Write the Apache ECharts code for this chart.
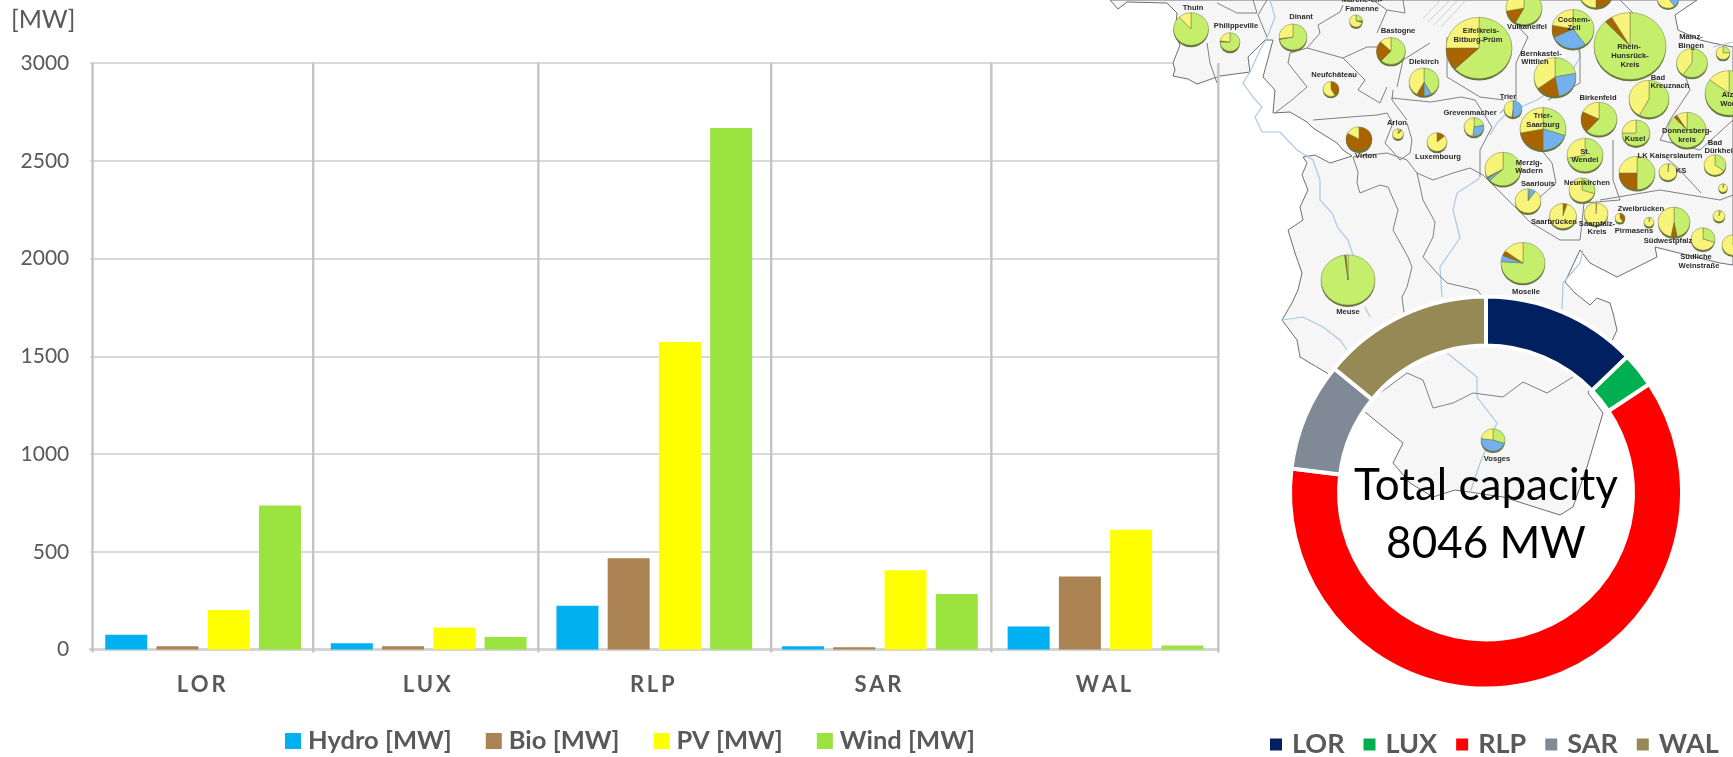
<!DOCTYPE html>
<html><head><meta charset="utf-8">
<style>html,body{margin:0;padding:0;background:#fff}#c{width:1733px;height:757px}</style>
<script src="https://cdn.jsdelivr.net/npm/echarts@6/dist/echarts.min.js"></script>
</head><body><div id="c"></div>
<script>
const regions = ['LOR','LUX','RLP','SAR','WAL'];
const yTicks = [0,500,1000,1500,2000,2500,3000];
const hydro = [76,32,224,17,118];
const bio   = [17,17,467,12,373];
const pv    = [202,113,1573,405,612];
const wind  = [736,64,2667,284,20];
const regionCapacity = [1031,230,4931,720,1134];
const totalCapacity = 8046;
const dividers = [0.01,0.988,1.986,3.018,3.994,5];

// map: [x, y, radius, wind, hydro, bio, pv], on the map axes
const mapPies = [
[1191,29,17.5,88,0,0,12],[1230,42,10,75,0,2,23],[1293,37,14,72,0,1,27],[1356,21,6.5,25,0,5,70],
[1391,51,14.5,62,0,25,13],[1331,89,8,0,0,42,58],[1359,139,13,0,0,83,17],[1398,134,5.5,8,0,4,88],
[1424,82,15,42,8,8,42],[1437,142,10,0,0,14,86],[1474,127,10,22,30,0,48],[1513,109,9,0,50,2,48],
[1479,48,33,63,0,12,25],[1524,8,18,58,0,14,28],[1573,29,21,40,28,10,22],[1596,-8,17,20,0,30,50],
[1668,-2,11,10,30,0,60],[1630,46,36,88,0,3.5,8.5],[1692,63,15.5,60,0,0,40],[1723,53,7,25,0,0,75],
[1729,93,24,85,0,0,15],[1555,77,21,22,25,18,35],[1649,99,20,58,0,0,42],[1599,119,18,62,0,20,18],
[1543,129,23,30,20,22,28],[1636,133,14,75,0,0,25],[1687,130,19,88,0,3,9],[1585,155,18,72,0,0,28],
[1503,169,18,63,3,1,33],[1637,173,18,50,0,25,25],[1668,172,9,2,0,0,98],[1715,165,11,35,0,0,65],
[1723,188,4.5,5,0,0,95],[1528,201,13,2,8,0,90],[1582,190,13,30,0,0,70],[1563,216,13.5,0,0,5,95],
[1596,214,12,0,0,1,99],[1620,218,5,0,0,40,60],[1649,222,5,5,0,0,95],[1674,222,16,47,0,6,47],
[1719,216,6,5,0,0,95],[1703,239,12,30,0,0,70],[1733,245,11,2,0,0,98],[1523,263,22,76,5,4,15],
[1348,280,27,98,0,1,1],[1493,440,12,30,47,0,23]
];
const mapLabels = [
['Thuin',1193,8],['Philippeville',1236,26],['Dinant',1301,17],['Marche-en-',1362,0],['Famenne',1362,9],
['Bastogne',1398,31],['Neufchâteau',1334,75],['Virton',1366,156],['Arlon',1397,123],['Diekirch',1424,62],
['Luxembourg',1438,157],['Grevenmacher',1470,113],['Trier',1508,97],['Eifelkreis-',1481,31],['Bitburg-Prüm',1478,40],
['Vulkaneifel',1527,27],['Cochem-',1574,20],['Zell',1574,28],['Bernkastel-',1541,54],['Wittlich',1535,62],
['Rhein-',1629,47],['Hunsrück-',1630,56],['Kreis',1630,65],['Mainz-',1691,37],['Bingen',1691,46],
['Bad',1658,78],['Kreuznach',1670,86],['Birkenfeld',1598,98],['Trier-',1543,116],['Saarburg',1543,125],
['Kusel',1635,139],['Donnersberg-',1687,131],['kreis',1687,140],['St.',1585,152],['Wendel',1585,160],
['Bad',1715,143],['Dürkheim',1722,151],['LK Kaiserslautern',1670,156],['KS',1681,171],['Merzig-',1529,163],
['Wadern',1529,171],['Saarlouis',1538,184],['Neunkirchen',1587,183],['Saarbrücken',1554,222],['Saarpfalz-',1597,224],
['Kreis',1597,232],['Zweibrücken',1641,209],['Pirmasens',1634,231],['Südwestpfalz',1668,241],['Südliche',1696,257],
['Weinstraße',1699,266],['Moselle',1526,292],['Meuse',1348,312],['Vosges',1497,459],['Alzey-',1733,95],['Worms',1733,104]
];
const mapOutline = [
[1110,0],[1697,0],[1675,15],[1678,30],[1700,40],[1713,43],[1733,47],[1733,265],[1720,263],[1687,255],[1655,247],[1657,257],[1617,277],
[1590,263],[1580,250],[1565,282],[1575,293],[1590,305],[1597,298],[1610,303],[1613,313],[1617,330],[1588,393],[1603,413],[1587,467],
[1573,507],[1560,515],[1503,497],[1455,490],[1433,497],[1410,483],[1393,463],[1403,443],[1365,412],[1327,373],[1300,357],[1297,340],
[1282,320],[1292,303],[1298,290],[1302,273],[1295,253],[1288,230],[1303,220],[1300,207],[1308,190],[1302,175],[1307,163],[1303,157],
[1315,155],[1330,163],[1352,156],[1343,150],[1337,143],[1313,128],[1307,122],[1290,112],[1273,113],[1275,90],[1263,77],[1273,40],
[1265,40],[1248,57],[1250,72],[1220,76],[1197,84],[1188,79],[1173,76],[1175,70],[1173,63],[1180,45],[1175,35],[1177,13],[1167,3],[1127,2],[1118,9]
];
const mapBorders = [
[[1207,43],[1210,63],[1217,83]],[[1217,3],[1237,13],[1257,13],[1253,0]],[[1267,0],[1258,15],[1267,37]],
[[1318,25],[1340,12],[1343,5]],[[1318,25],[1320,33],[1307,48],[1290,53],[1288,63],[1307,87],[1292,100],[1275,113]],
[[1307,48],[1343,58],[1367,47],[1377,47]],[[1343,58],[1365,80],[1358,90],[1380,103],[1387,87]],
[[1313,120],[1350,117],[1377,115],[1387,113]],[[1387,113],[1393,123],[1385,143],[1400,160],[1410,153],[1412,140],[1407,123]],
[[1393,90],[1392,100],[1407,120]],[[1430,43],[1403,60],[1397,87]],[[1387,10],[1405,13],[1403,0]],[[1377,33],[1387,10],[1373,0]],
[[1353,157],[1358,172],[1357,183],[1360,193],[1380,185],[1388,187],[1398,210],[1393,230],[1408,257],[1412,267],[1407,287],[1402,297],[1405,320]],
[[1417,173],[1423,200],[1435,222],[1433,237],[1423,257],[1437,273],[1447,283],[1477,290],[1483,297]],
[[1353,157],[1387,153],[1407,160],[1417,173],[1433,180],[1453,173],[1470,168],[1483,175]],
[[1461,97],[1475,100],[1492,127],[1480,150],[1480,177]],[[1391,98],[1431,102],[1461,97]],
[[1512,20],[1528,37],[1516,63],[1516,100],[1500,113]],[[1447,37],[1447,77],[1480,97],[1504,100]],
[[1576,27],[1580,53],[1580,83],[1548,100]],[[1528,133],[1552,163],[1556,183],[1540,197]],
[[1613,140],[1613,180],[1620,200],[1584,203],[1580,240]],[[1665,157],[1677,167],[1701,193]],
[[1600,200],[1660,190],[1720,200],[1733,195]],[[1660,140],[1700,150],[1733,120]],[[1640,60],[1650,30],[1620,0]],
[[1380,393],[1407,373],[1423,380],[1433,408],[1453,403],[1473,393],[1503,397],[1523,382],[1547,393],[1573,377]],
[[1483,175],[1500,192],[1530,222],[1560,240],[1580,240]],[[1680,60],[1690,90],[1670,120],[1660,140]]
];
const mapHatch = [[[1423,18],[1441,0]],[[1428,22],[1450,0]],[[1434,25],[1458,0]],[[1441,27],[1466,0]]];
const mapRivers = [
[[1270,0],[1275,17],[1267,38],[1260,50],[1250,72],[1243,83],[1253,97],[1262,107],[1255,117],[1262,132],[1280,132],[1297,150],[1313,160],[1320,180],[1320,200],[1332,213],[1338,228],[1348,240],[1353,255]],
[[1365,307],[1370,317]],[[1480,178],[1457,193],[1453,210],[1460,238],[1440,267],[1442,297]],
[[1282,320],[1303,317],[1323,327],[1340,340],[1347,350]],[[1447,353],[1477,377],[1477,397],[1497,423],[1480,463],[1470,493]],
[[1583,250],[1580,263],[1563,283],[1562,310]],[[1577,43],[1580,57],[1567,80],[1537,100],[1507,113],[1497,123],[1490,135]],
[[1713,47],[1733,42]]
];

const seriesColors = ['#00b0f0','#ab8251','#ffff00','#9be33e'];
const regionColors = ['#002060','#00b050','#ff0000','#7f8a96','#958a55'];
const pieColors = ['#c5ee6c','#72b0ee','#a96400','#f8f47a'];
const GREY = '#595959';
const UI = 'Lato, "Open Sans", sans-serif';

const chart = echarts.init(document.getElementById('c'), null, {renderer:'canvas'});

function renderMapLine(params, api){
  const i = params.dataIndex;
  const toPts = l => l.map(p => api.coord(p));
  const nB = mapBorders.length;
  if(i===0) return {type:'polygon',shape:{points:toPts(mapOutline)},style:{fill:'#f6f6f7',stroke:'#6e6e6e',lineWidth:1}};
  const j = i-1;
  if(j<mapRivers.length) return {type:'polyline',shape:{points:toPts(mapRivers[j])},style:{fill:null,stroke:'#a9c9e8',lineWidth:1.2}};
  const k = j-mapRivers.length;
  if(k<nB) return {type:'polyline',shape:{points:toPts(mapBorders[k])},style:{fill:null,stroke:'#808080',lineWidth:1}};
  return {type:'polyline',shape:{points:toPts(mapHatch[k-nB])},style:{fill:null,stroke:'#c4c4c4',lineWidth:0.8}};
}
function renderMapPie(params, api){
  const p = mapPies[params.dataIndex];
  const c = api.coord([p[0],p[1]]);
  const r = api.size([p[2],0])[0];
  const kids = [{type:'circle',shape:{cx:0,cy:2,r:r},style:{fill:'#66743a'}}];
  let a = -Math.PI/2;
  const total = p[3]+p[4]+p[5]+p[6];
  [p[3],p[4],p[5],p[6]].forEach((v,n)=>{
    if(!v) return;
    const e = a+v/total*Math.PI*2;
    kids.push({type:'sector',shape:{cx:0,cy:0,r:r,r0:0,startAngle:a,endAngle:e,clockwise:true},style:{fill:pieColors[n],stroke:'#6f7a48',lineWidth:0.5}});
    a = e;
  });
  return {type:'group',x:c[0],y:c[1],scaleY:0.93,children:kids};
}
function renderMapLabel(params, api){
  const l = mapLabels[params.dataIndex];
  const c = api.coord([l[1],l[2]]);
  return {type:'text',x:c[0],y:c[1],style:{text:l[0],fill:'#2a2a2a',font:'bold 7.6px "Liberation Sans", Arial, sans-serif',align:'center',verticalAlign:'middle'}};
}
function renderDivider(params, api){
  const x = api.value(0);
  const a = api.coord([x,3000]), b = api.coord([x,0]);
  return {type:'line',shape:{x1:a[0],y1:a[1],x2:b[0],y2:b[1]+3},style:{stroke:'#c4c4c4',lineWidth:2.4}};
}
const barGroup = (name,data,color)=>({name,type:'bar',xAxisIndex:1,yAxisIndex:1,data,barWidth:42,barGap:'22%',itemStyle:{color},z:4});

chart.setOption({
  animation:false,
  backgroundColor:'#fff',
  title:[
    {text:'[MW]',left:11,top:7,padding:0,textStyle:{color:GREY,fontSize:25,fontWeight:'normal',fontFamily:UI}},
    {text:'Total capacity\n'+totalCapacity+' MW',left:1486,top:456.5,padding:0,textAlign:'center',
     textStyle:{color:'#000',fontSize:44,fontWeight:'normal',fontFamily:UI,lineHeight:58.5}}
  ],
  legend:[
    {data:['Hydro [MW]','Bio [MW]','PV [MW]','Wind [MW]'],left:285,top:728,padding:0,itemWidth:16,itemHeight:16,itemGap:34,icon:'rect',
     textStyle:{color:GREY,fontSize:25.5,fontWeight:'bold',fontFamily:UI,padding:[0,0,0,2]}},
    {data:regions,left:1268,top:731,width:465,padding:0,itemWidth:14,itemHeight:14,itemGap:17,icon:'rect',
     textStyle:{color:GREY,fontSize:27,fontWeight:'bold',fontFamily:UI,padding:[0,0,0,4]}}
  ],
  grid:[
    {left:0,top:0,width:1733,height:757,show:false},
    {left:90.3,top:63,width:1128,height:586.5,show:false}
  ],
  xAxis:[
    {gridIndex:0,type:'value',min:0,max:1733,show:false},
    {gridIndex:1,type:'category',data:regions,
     axisLine:{lineStyle:{color:'#d4d4d4',width:3}},axisTick:{show:false},
     axisLabel:{color:GREY,fontSize:22,fontWeight:'bold',fontFamily:UI,margin:24,padding:[0,4,0,0],formatter:v=>v.split('').join('\u2009')}},
    {gridIndex:1,type:'value',min:0,max:5,show:false}
  ],
  yAxis:[
    {gridIndex:0,type:'value',min:0,max:757,inverse:true,show:false},
    {gridIndex:1,type:'value',min:0,max:3000,interval:500,
     axisLine:{show:false},axisTick:{show:false},
     axisLabel:{color:GREY,fontSize:21,fontFamily:UI,margin:21,formatter:v=>String(v)},
     splitLine:{lineStyle:{color:'#d9d9d9',width:2}}}
  ],
  series:[
    {type:'custom',xAxisIndex:0,yAxisIndex:0,z:1,silent:true,clip:false,renderItem:renderMapLine,
     data:[0].concat(mapRivers,mapBorders,mapHatch).map((_,i)=>[i,0])},
    {type:'custom',xAxisIndex:0,yAxisIndex:0,z:2,silent:true,clip:false,renderItem:renderMapPie,data:mapPies.map(p=>[p[0],p[1]])},
    {type:'custom',xAxisIndex:0,yAxisIndex:0,z:3,silent:true,clip:false,renderItem:renderMapLabel,data:mapLabels.map(l=>[l[1],l[2]])},
    {type:'custom',xAxisIndex:2,yAxisIndex:1,z:3,silent:true,clip:false,renderItem:renderDivider,data:dividers.map(d=>[d])},
    barGroup('Hydro [MW]',hydro,seriesColors[0]),
    barGroup('Bio [MW]',bio,seriesColors[1]),
    barGroup('PV [MW]',pv,seriesColors[2]),
    barGroup('Wind [MW]',wind,seriesColors[3]),
    {type:'pie',center:[1486,492.5],radius:[147,196],startAngle:90,clockwise:true,z:5,silent:true,
     label:{show:false},labelLine:{show:false},
     itemStyle:{borderColor:'#fff',borderWidth:4},
     data:regions.map((n,i)=>({name:n,value:regionCapacity[i],itemStyle:{color:regionColors[i]}}))}
  ]
});
</script></body></html>
